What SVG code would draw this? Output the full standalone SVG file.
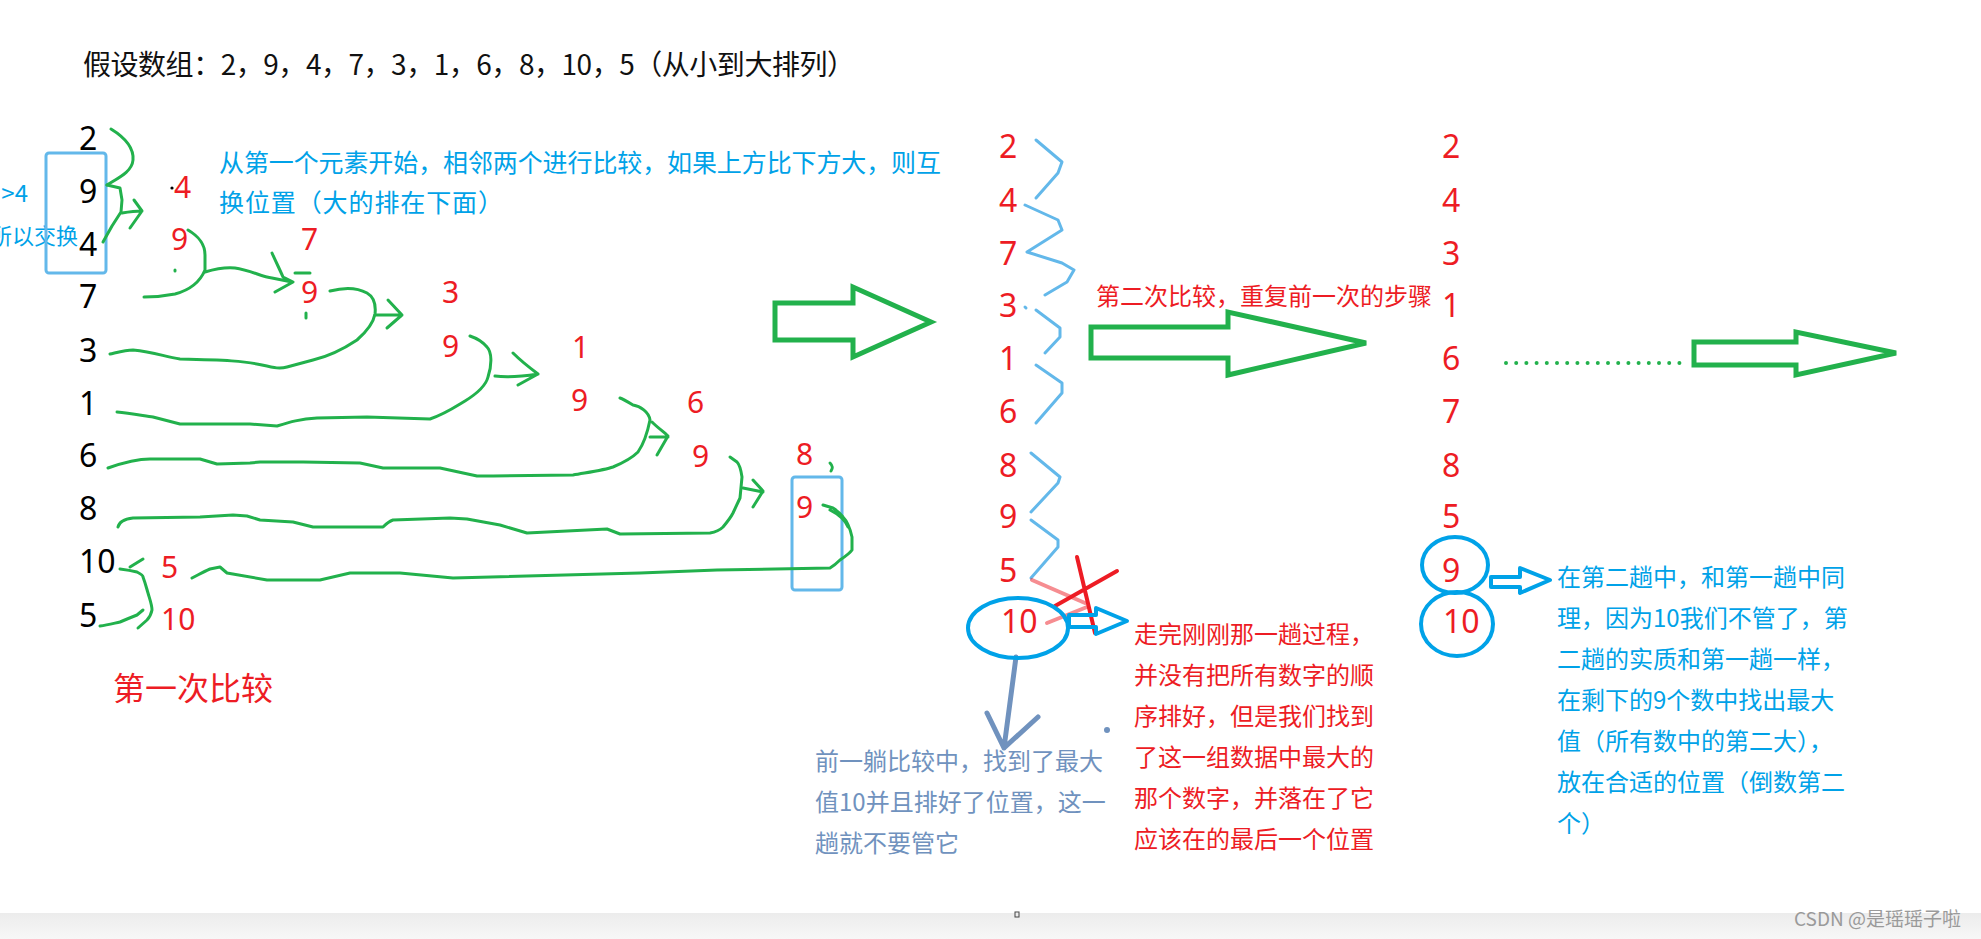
<svg xmlns="http://www.w3.org/2000/svg" width="1981" height="939" viewBox="0 0 1981 939">
<defs>
<style>
.cjk{font-family:"Noto Sans CJK SC","Noto Sans",sans-serif}
.num{font-family:"Noto Sans","Liberation Sans",sans-serif}
.blk{fill:#000;font-size:32px}
.r30{fill:#ed1c24;font-size:30px}
.r32{fill:#ed1c24;font-size:32px}
.g{fill:none;stroke:#22b14c;stroke-width:3;stroke-linecap:round;stroke-linejoin:round}
.big{fill:#fff;stroke:#22b14c;stroke-width:5;stroke-linejoin:miter}
.lb{fill:none;stroke:#63b8ea;stroke-width:3;stroke-linecap:round;stroke-linejoin:round}
.bl{fill:none;stroke:#00a2e8;stroke-width:4;stroke-linejoin:round}
.t24{font-size:24px}
</style>
<linearGradient id="band" x1="0" y1="0" x2="0" y2="1">
<stop offset="0" stop-color="#ececec"/>
<stop offset="1" stop-color="#f7f7f7"/>
</linearGradient>
</defs>
<rect width="1981" height="939" fill="#fff"/>

<g id="title">
<text class="cjk" x="83" y="75" font-size="28" fill="#111" textLength="772">假设数组：2，9，4，7，3，1，6，8，10，5（从小到大排列）</text>
</g>

<g id="note-left">
<text class="cjk" x="28" y="202" font-size="24" fill="#00a2e8" text-anchor="end">&gt;4</text>
<text class="cjk" x="78" y="244" font-size="22" fill="#00a2e8" text-anchor="end">所以交换</text>
</g>

<g id="note-rule">
<text class="cjk" x="219" y="172" font-size="25" fill="#00a2e8" textLength="722">从第一个元素开始，相邻两个进行比较，如果上方比下方大，则互</text>
<text class="cjk" x="219" y="212" font-size="25" fill="#00a2e8" textLength="284">换位置（大的排在下面）</text>
</g>

<g id="pass1-original">
<text class="num blk" x="79" y="150">2</text>
<text class="num blk" x="79" y="203">9</text>
<text class="num blk" x="79" y="256">4</text>
<text class="num blk" x="79" y="308">7</text>
<text class="num blk" x="79" y="362">3</text>
<text class="num blk" x="79" y="415">1</text>
<text class="num blk" x="79" y="467">6</text>
<text class="num blk" x="79" y="520">8</text>
<text class="num blk" x="79" y="573">10</text>
<text class="num blk" x="79" y="627">5</text>
</g>

<g id="pass1-swaps">
<circle cx="172" cy="188" r="1.6" fill="#000"/>
<text class="num r30" x="174" y="198">4</text>
<text class="num r30" x="171" y="250">9</text>
<text class="num r30" x="301" y="250">7</text>
<text class="num r30" x="301" y="303">9</text>
<text class="num r30" x="442" y="303">3</text>
<text class="num r30" x="442" y="357">9</text>
<text class="num r30" x="572" y="358">1</text>
<text class="num r30" x="571" y="411">9</text>
<text class="num r30" x="687" y="413">6</text>
<text class="num r30" x="692" y="467">9</text>
<text class="num r30" x="796" y="465">8</text>
<text class="num r30" x="796" y="518">9</text>
<text class="num r30" x="161" y="578">5</text>
<text class="num r30" x="161" y="630">10</text>
</g>

<g id="pass1-label">
<text class="cjk" x="113" y="700" font-size="32" fill="#ed1c24">第一次比较</text>
</g>

<g id="boxes">
<rect class="lb" x="46" y="153" width="60" height="120" rx="3"/>
<rect class="lb" x="792" y="477" width="50" height="113" rx="3"/>
</g>

<g id="connectors">
<path class="g" d="M111,129 C124,137 134,148 133,160 C132,172 118,178 107,185"/>
<path class="g" d="M107,185 L120,188 L122,200 L121,212 L112,226 L103,242"/>
<path class="g" d="M122,213 C128,212 136,211 142,211 M134,200 L142,211 L130,228"/>
<path class="g" d="M188,230 C198,236 205,243 205,255 L205,270 C200,282 190,290 175,294 C160,297 150,297 144,297"/>
<path class="g" d="M205,272 C215,269 225,267 235,268 C250,270 262,277 272,278 L292,282 M272,253 C276,262 280,270 283,277 L293,282 L275,292"/>
<path class="g" d="M295,273 L310,273 M306,313 L306,318 M175,270 L175,271"/>
<path class="g" d="M330,291 C345,287 358,288 367,293 C374,297 376,305 375,314 C373,325 365,333 357,340 C345,348 330,356 313,360 L287,367 C280,369 275,368 262,365 C245,361 225,360 180,359 C165,357 155,352 133,350 C125,350 115,353 110,354"/>
<path class="g" d="M375,315 L402,315 M388,300 L402,315 L387,328"/>
<path class="g" d="M117,412 C130,413 145,416 153,417 L180,424 L250,424 L277,426 C290,422 300,419 317,418 L367,417 L430,419 C445,414 455,407 465,401 C478,393 486,385 488,377 C492,365 492,352 487,347 C482,341 476,338 470,336"/>
<path class="g" d="M495,376 C510,378 525,376 538,374 M513,353 C520,360 530,368 538,374 L518,385"/>
<path class="g" d="M108,468 C125,462 140,459 150,459 L200,459 L217,464 L250,463 L260,462 L303,462 L360,463 L383,468 L440,468 L477,476 L493,476 L573,475 C590,472 605,470 613,467 C625,462 633,457 638,452 C645,442 648,430 650,420 C649,412 640,406 633,405 C628,402 623,399 620,398"/>
<path class="g" d="M650,437 L668,437 M652,422 C658,428 664,432 668,436 L657,455"/>
<path class="g" d="M118,527 C119,522 125,519 133,518 L200,517 L233,515 L247,516 L260,520 L293,522 L313,527 L383,527 C386,524 390,521 393,520 L450,518 L467,519 L500,525 L527,533 L607,529 L620,534 L710,533 C716,532 720,530 723,527 C728,521 731,517 733,513 L740,498 L742,477 C741,470 739,464 737,462 L730,457"/>
<path class="g" d="M743,488 L763,492 M753,480 L763,491 L753,507"/>
<path class="g" d="M192,578 C198,575 203,572 210,569 L220,567 L227,573 L267,580 L320,580 L350,573 L400,573 L453,578 L640,573 L717,570 L830,568 C835,565 838,562 840,560 C846,556 850,553 852,550 L852,537 C850,528 846,520 843,517 C840,513 836,510 833,508 L823,505 M830,510 C838,514 845,520 848,527"/>
<path class="g" d="M830,463 C833,466 833,468 831,471"/>
<path class="g" d="M120,569 C128,570 133,571 137,572 C141,574 143,576 143,577 C146,585 147,590 148,593 C150,600 152,605 152,610 C151,615 149,618 147,620 L138,628 M130,567 L143,559 M100,626 C108,625 115,623 120,622 C127,619 132,617 137,615 L143,610"/>

<polygon class="big" points="775,303 853,303 853,287 931,322 853,357 853,340 775,340"/>
<polygon class="big" points="1091,327 1228,327 1228,312 1366,343 1228,375 1228,358 1091,358"/>
<polygon class="big" points="1694,342 1796,342 1796,332 1896,353 1796,375 1796,365 1694,365"/>
<line x1="1506" y1="363" x2="1680" y2="363" stroke="#22b14c" stroke-width="4" stroke-linecap="round" stroke-dasharray="0 10.2"/>

<path class="lb" d="M1036,140 L1062,162 L1058,173 L1036,198"/>
<path class="lb" d="M1025,205 L1058,220 L1062,230 L1027,252 L1062,263 L1074,270 L1067,282 L1045,295"/>
<path class="lb" d="M1025,307 L1026,308 M1036,310 L1060,328 L1060,337 L1045,353"/>
<path class="lb" d="M1036,365 L1062,383 L1062,393 L1036,423"/>
<path class="lb" d="M1031,453 L1060,477 L1058,483 L1031,512"/>
<path class="lb" d="M1031,520 L1058,540 L1058,547 L1031,578"/>

<path d="M1032,580 L1085,603 M1047,623 L1087,607" stroke="#ed1c24" stroke-opacity="0.5" stroke-width="4" fill="none" stroke-linecap="round"/>
<path d="M1077,557 L1095,633 M1117,571 L1055,606" stroke="#ed1c24" stroke-width="4" fill="none" stroke-linecap="round"/>
<polygon class="bl" points="1069,615 1096,615 1096,608 1127,621 1096,634 1096,627 1069,627"/>
<path d="M1016,657 L1004,748 M987,713 L1004,748 L1038,717" stroke="#7092be" stroke-width="5" fill="none" stroke-linecap="round" stroke-linejoin="round"/>
<circle cx="1107" cy="730" r="3" fill="#7092be"/>
<polygon class="bl" points="1491,577 1520,577 1520,568 1550,580 1520,593 1520,587 1491,587"/>
</g>

<g id="pass2-column">
<text class="num r32" x="999" y="158">2</text>
<text class="num r32" x="999" y="212">4</text>
<text class="num r32" x="999" y="265">7</text>
<text class="num r32" x="999" y="317">3</text>
<text class="num r32" x="999" y="370">1</text>
<text class="num r32" x="999" y="423">6</text>
<text class="num r32" x="999" y="477">8</text>
<text class="num r32" x="999" y="528">9</text>
<text class="num r32" x="999" y="582">5</text>
<text class="num r32" x="1001" y="633">10</text>
<ellipse class="bl" cx="1018" cy="628" rx="50" ry="30"/>
</g>

<g id="pass2-label">
<text class="cjk t24" x="1096" y="305" fill="#ed1c24">第二次比较，重复前一次的步骤</text>
</g>

<g id="note-found">
<text class="cjk t24" fill="#ed1c24">
<tspan x="1134" y="643">走完刚刚那一趟过程，</tspan>
<tspan x="1134" y="684">并没有把所有数字的顺</tspan>
<tspan x="1134" y="725">序排好，但是我们找到</tspan>
<tspan x="1134" y="766">了这一组数据中最大的</tspan>
<tspan x="1134" y="807">那个数字，并落在了它</tspan>
<tspan x="1134" y="848">应该在的最后一个位置</tspan>
</text>
</g>

<g id="note-ignore">
<text class="cjk t24" fill="#7092be">
<tspan x="815" y="770">前一躺比较中，找到了最大</tspan>
<tspan x="815" y="811">值10并且排好了位置，这一</tspan>
<tspan x="815" y="852">趟就不要管它</tspan>
</text>
</g>

<g id="pass3-column">
<text class="num r32" x="1442" y="158">2</text>
<text class="num r32" x="1442" y="212">4</text>
<text class="num r32" x="1442" y="265">3</text>
<text class="num r32" x="1442" y="317">1</text>
<text class="num r32" x="1442" y="370">6</text>
<text class="num r32" x="1442" y="423">7</text>
<text class="num r32" x="1442" y="477">8</text>
<text class="num r32" x="1442" y="528">5</text>
<text class="num r32" x="1442" y="582">9</text>
<text class="num r32" x="1443" y="633">10</text>
<ellipse class="bl" cx="1455" cy="565" rx="33" ry="28"/>
<ellipse class="bl" cx="1457" cy="624" rx="36" ry="32"/>
</g>

<g id="note-second">
<text class="cjk t24" fill="#00a2e8">
<tspan x="1557" y="586">在第二趟中，和第一趟中同</tspan>
<tspan x="1557" y="627">理，因为10我们不管了，第</tspan>
<tspan x="1557" y="668">二趟的实质和第一趟一样，</tspan>
<tspan x="1557" y="709">在剩下的9个数中找出最大</tspan>
<tspan x="1557" y="750">值（所有数中的第二大），</tspan>
<tspan x="1557" y="791">放在合适的位置（倒数第二</tspan>
<tspan x="1557" y="832">个）</tspan>
</text>
</g>

<g id="footer">
<rect x="0" y="913" width="1981" height="26" fill="url(#band)"/>
<rect x="1015" y="912" width="4" height="5" fill="none" stroke="#444" stroke-width="1"/>
<text class="cjk" x="1794" y="926" font-size="19" fill="#9a9a9a">CSDN @是瑶瑶子啦</text>
</g>
</svg>
